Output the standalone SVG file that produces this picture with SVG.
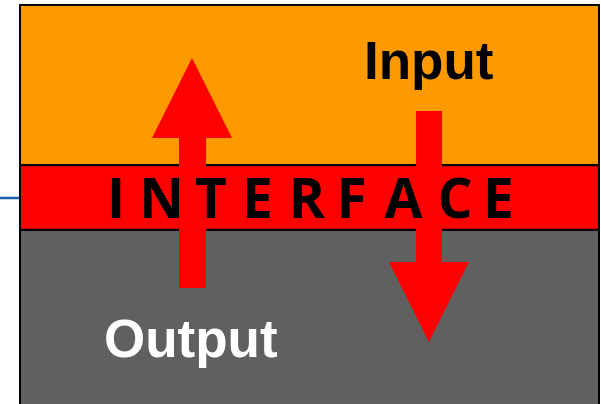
<svg xmlns="http://www.w3.org/2000/svg" width="601" height="404" viewBox="0 0 601 404">
  <style>
    .frame { stroke: #000; stroke-width: 2; }
    .edge { stroke: #000; stroke-width: 1.5; }
    .arrow { fill: #FF0000; }
    .label { font-family: "Liberation Sans", Arial, sans-serif; font-weight: bold; font-size: 53px; }
    .band-text { font-family: "Open Sans", "Liberation Sans", sans-serif; font-weight: bold; font-size: 55px; fill: #000; text-anchor: middle; }
  </style>

  <!-- lead-in line on the left -->
  <line x1="0" y1="198" x2="20" y2="198" stroke="#1F5BA8" stroke-width="2.5"/>

  <!-- upper layer -->
  <g id="upper-layer">
    <rect x="20" y="5" width="579" height="161" fill="#FF9900" class="frame"/>
  </g>

  <!-- lower layer -->
  <g id="lower-layer">
    <rect x="20" y="230" width="579" height="180" fill="#606060" class="frame"/>
  </g>

  <!-- interface band -->
  <g id="interface">
    <rect x="20" y="165" width="579" height="65" fill="#FF0000" class="frame"/>
    <line x1="20" y1="165.5" x2="599" y2="165.5" class="edge"/>
    <line x1="20" y1="229.5" x2="599" y2="229.5" class="edge"/>
  </g>

  <!-- connectors: output (up) and input (down) arrows -->
  <g id="connectors">
    <polygon id="arrow-out" class="arrow" points="179,288 206,288 206,138 232,138 192,58 152,138 179,138"/>
    <polygon id="arrow-in" class="arrow" points="416,111 442,111 442,262 469,262 429,342 389,262 416,262"/>
  </g>

  <g id="interface-label">
    <text class="band-text" y="218" x="116 161.5 211 257.5 307 351.5 403.5 455 498.5">INTERFACE</text>
  </g>

  <g id="input-label">
    <text class="label" x="364" y="79" fill="#000">Input</text>
  </g>

  <g id="output-label">
    <text class="label" x="104" y="357" fill="#FFFFFF">Output</text>
  </g>
</svg>
